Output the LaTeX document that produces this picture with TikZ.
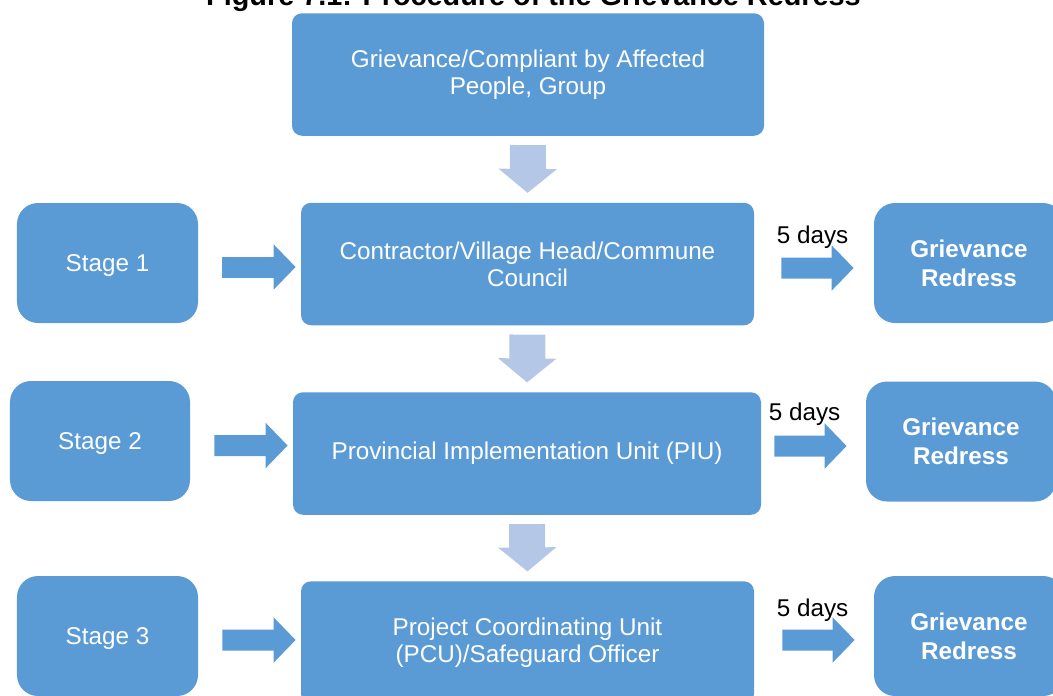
\documentclass[tikz,border=0pt]{standalone}
\usepackage{fontspec}
\setmainfont{Liberation Sans}
\usetikzlibrary{arrows.meta}

\definecolor{boxblue}{HTML}{5B9BD5}
\definecolor{paleblue}{HTML}{B4C7E7}

\begin{document}
\begin{tikzpicture}[
        stage/.style={rectangle, fill=boxblue, text=white, minimum width=3.62cm, minimum height=2.4cm, rounded corners=0.42cm, text depth=0pt, font=\fontsize{13.8}{15.4}\selectfont},
        proc/.style={rectangle, fill=boxblue, text=white, minimum height=2.45cm, rounded corners=0.2cm, align=center, font=\fontsize{13.8}{15.4}\selectfont},
        redress/.style={rectangle, fill=boxblue, text=white, minimum width=3.8cm, minimum height=2.4cm, rounded corners=0.42cm, align=center, font=\fontsize{13.8}{16.4}\selectfont\bfseries},
        fwd/.style={-{Triangle[length=0.44cm, width=0.88cm]}, line width=0.42cm, draw=boxblue},
        down/.style={-{Triangle[length=0.48cm, width=1.14cm]}, line width=0.72cm, draw=paleblue, shorten <=0.18cm, shorten >=0.19cm},
        days/.style={anchor=base west, inner sep=0pt, font=\fontsize{13.8}{15.4}\selectfont}
    ]
    \useasboundingbox (0,0) rectangle (21.06,-13.9);
    \node[anchor=base, inner sep=0pt, font=\fontsize{16.4}{18}\selectfont\bfseries] (title) at (10.67,-0.1) {Figure 7.1: Procedure of the Grievance Redress};

    % main column
    \node[proc, minimum width=9.44cm] (src) at (10.56,-1.49) {Grievance/Compliant by Affected\\People, Group};
    \node[proc, minimum width=9.06cm] (lvlone) at (10.55,-5.28) {Contractor/Village Head/Commune\\Council};
    \node[proc, minimum width=9.36cm] (piu) at (10.54,-9.07) {Provincial Implementation Unit (PIU)};
    \node[proc, minimum width=9.06cm] (pcu) at (10.55,-12.85) {Project Coordinating Unit\\(PCU)/Safeguard Officer};

    % stages and outcomes
    \node[stage] (stageone) at (2.15,-5.26) {Stage 1};
    \node[stage, minimum width=3.6cm] (stagetwo) at (2.0,-8.82) {Stage 2};
    \node[stage] (stagethree) at (2.15,-12.72) {Stage 3};
    \node[redress] (grone) at (19.38,-5.26) {Grievance\\Redress};
    \node[redress] (grtwo) at (19.22,-8.83) {Grievance\\Redress};
    \node[redress] (grthree) at (19.38,-12.72) {Grievance\\Redress};

    \draw[down] (src.south) -- (lvlone.north);
    \draw[down] (lvlone.south) -- (piu.north);
    \draw[down] (piu.south) -- (pcu.north);

    \draw[fwd] ([xshift=0.48cm, yshift=-0.08cm]stageone.east) -- ([xshift=-0.1cm, yshift=-0.06cm]lvlone.west);
    \draw[fwd] ([xshift=0.48cm, yshift=-0.09cm]stagetwo.east) -- ([xshift=-0.1cm, yshift=0.16cm]piu.west);
    \draw[fwd] ([xshift=0.48cm, yshift=-0.08cm]stagethree.east) -- ([xshift=-0.1cm, yshift=0.05cm]pcu.west);

    \draw[fwd] ([xshift=0.54cm, yshift=-0.08cm]lvlone.east) -- ([xshift=-0.4cm, yshift=-0.1cm]grone.west) node[pos=0, days, xshift=-0.3cm, yshift=0.5cm] {5 days};
    \draw[fwd] ([xshift=0.26cm, yshift=0.15cm]piu.east) -- ([xshift=-0.38cm, yshift=-0.09cm]grtwo.west) node[pos=0, days, xshift=-0.32cm, yshift=0.52cm] {5 days};
    \draw[fwd] ([xshift=0.56cm, yshift=0.05cm]pcu.east) -- ([xshift=-0.38cm, yshift=-0.08cm]grthree.west) node[pos=0, days, xshift=-0.32cm, yshift=0.48cm] {5 days};
\end{tikzpicture}
\end{document}
